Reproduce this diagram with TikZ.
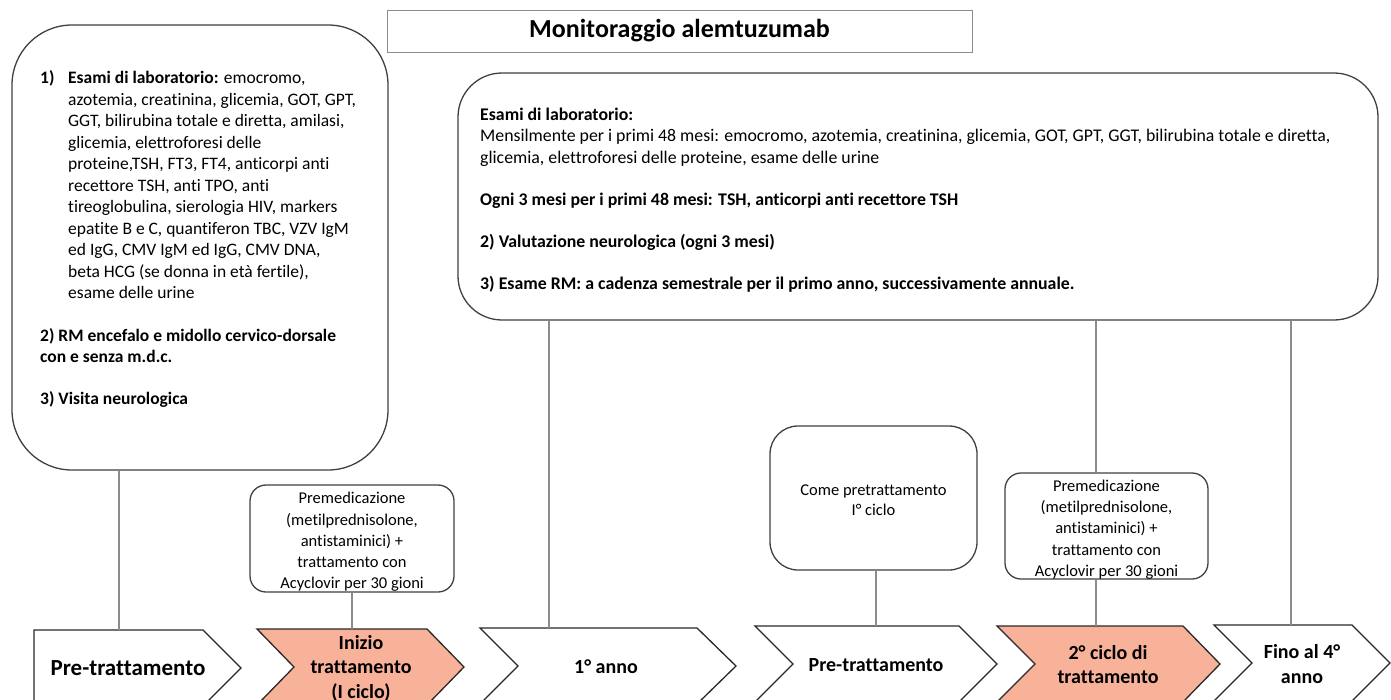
\documentclass[tikz,border=0pt]{standalone}
\usepackage{fontspec}
\setmainfont{Carlito}[Ligatures=CommonOff]
\definecolor{boxgray}{RGB}{64,64,64}
\definecolor{linegray}{RGB}{140,140,140}
\definecolor{chevdark}{RGB}{40,40,40}
\definecolor{salmon}{RGB}{249,178,154}
\begin{document}
\begin{tikzpicture}[x=1pt,y=-1pt,
  box/.style={draw=boxgray, line width=1.3pt, fill=white, inner sep=0},
  titlebox/.style={draw=linegray, line width=1pt, inner sep=0},
  conn/.style={draw=linegray, line width=1.1pt},
  chev/.style={draw=chevdark, line width=1.3pt, line join=miter, fill=white},
  chevhot/.style={chev, fill=salmon},
  chevtext/.style={font=\fontsize{20}{24.5}\selectfont\bfseries, align=center, inner sep=0},
  bodytext/.style={font=\fontsize{17.5}{21.5}\selectfont, align=left, inner sep=0, anchor=north west},
  smalltext/.style={font=\fontsize{16.5}{21.3}\selectfont, align=center, inner sep=0}]
\useasboundingbox (0,0) rectangle (1391,699);
\clip (0,0) rectangle (1391,699);

% title
\node[titlebox, minimum width=585, minimum height=42] (title) at (679.5,31)
  {\fontsize{26}{30}\selectfont\bfseries Monitoraggio alemtuzumab};

% large boxes
\node[box, rounded corners=60, minimum width=376, minimum height=445] (leftbox) at (200,247.5) {};
\node[box, rounded corners=44, minimum width=920, minimum height=247] (rightbox) at (918,196.5) {};

\node[bodytext] (lefttext) at (40,70.5) {%
\makebox[28pt][l]{\textbf{1)}}\textbf{Esami di laboratorio:} emocromo,\\
\hspace*{28pt}azotemia, creatinina, glicemia, GOT, GPT,\\
\hspace*{28pt}GGT, bilirubina totale e diretta, amilasi,\\
\hspace*{28pt}glicemia, elettroforesi delle\\
\hspace*{28pt}proteine,TSH, FT3, FT4, anticorpi anti\\
\hspace*{28pt}recettore TSH, anti TPO, anti\\
\hspace*{28pt}tireoglobulina, sierologia HIV, markers\\
\hspace*{28pt}epatite B e C, quantiferon TBC, VZV IgM\\
\hspace*{28pt}ed IgG, CMV IgM ed IgG, CMV DNA,\\
\hspace*{28pt}beta HCG (se donna in età fertile),\\
\hspace*{28pt}esame delle urine\\[21pt]
\textbf{2) RM encefalo e midollo cervico-dorsale}\\
\textbf{con e senza m.d.c.}\\[20.5pt]
\textbf{3) Visita neurologica}};

\node[bodytext, font=\fontsize{17.8}{21.5}\selectfont] (righttext) at (480,107.5) {%
\textbf{Esami di laboratorio:}\\
Mensilmente per i primi 48 mesi: emocromo, azotemia, creatinina, glicemia, GOT, GPT, GGT, bilirubina totale e diretta,\\
glicemia, elettroforesi delle proteine, esame delle urine\\[20.5pt]
\textbf{Ogni 3 mesi per i primi 48 mesi: TSH, anticorpi anti recettore TSH}\\[20.5pt]
\textbf{2) Valutazione neurologica (ogni 3 mesi)}\\[20.5pt]
\textbf{3) Esame RM: a cadenza semestrale per il primo anno, successivamente annuale.}};

% small boxes
\node[box, rounded corners=16, minimum width=204, minimum height=107] (premedA) at (352,538.5) {};
\node[smalltext] (premedAtext) at ([yshift=-3.5]premedA.center) {Premedicazione\\(metilprednisolone,\\antistaminici) +\\trattamento con\\Acyclovir per 30 gioni};
\node[box, rounded corners=28, minimum width=207, minimum height=144] (come) at (873.5,498) {};
\node[smalltext, anchor=north, font=\fontsize{16.5}{20}\selectfont] (cometext) at (873.5,484.5) {Come pretrattamento\\I° ciclo};
\node[box, rounded corners=16, minimum width=203, minimum height=106] (premedB) at (1106.5,526) {};
\node[smalltext] (premedBtext) at ([yshift=-3.5]premedB.center) {Premedicazione\\(metilprednisolone,\\antistaminici) +\\trattamento con\\Acyclovir per 30 gioni};

% timeline chevrons
\draw[chev] (34,630) -- (203,630) -- (241,668) -- (203,706) -- (34,706) -- cycle;
\draw[chevhot] (257,629) -- (427,629) -- (464,667) -- (427,705) -- (257,705) -- (294,667) -- cycle;
\draw[chev] (480,628) -- (697,628) -- (736,666) -- (697,704) -- (480,704) -- (518,666) -- cycle;
\draw[chev] (755,626) -- (959,626) -- (997,664) -- (959,702) -- (755,702) -- (793,664) -- cycle;
\draw[chevhot] (997,626) -- (1183,626) -- (1220,664) -- (1183,702) -- (997,702) -- (1035,664) -- cycle;
\draw[chev] (1214,625) -- (1352,625) -- (1390,663) -- (1352,701) -- (1214,701) -- (1252,663) -- cycle;

\coordinate (topA) at (119,630);
\coordinate (topB) at (352,629);
\coordinate (topC) at (549,628);
\coordinate (topD) at (876,626);
\coordinate (topE) at (1096,626);
\coordinate (topF) at (1291,625);

\node[chevtext, font=\fontsize{23}{27}\selectfont\bfseries] (stepA) at (128,668) {Pre-trattamento};
\node[chevtext] (stepB) at (361,668) {Inizio\\trattamento\\(I ciclo)};
\node[chevtext] (stepC) at (606,667) {1° anno};
\node[chevtext] (stepD) at (876,665) {Pre-trattamento};
\node[chevtext] (stepE) at (1108,664.5) {2° ciclo di\\trattamento};
\node[chevtext] (stepF) at (1302,664) {Fino al 4°\\anno};

% connectors
\draw[conn] (leftbox.south -| topA) -- (topA);
\draw[conn] (premedA.south) -- (topB);
\draw[conn] (rightbox.south -| topC) -- (topC);
\draw[conn] (come.south -| topD) -- (topD);
\draw[conn] (rightbox.south -| topE) -- (premedB.north -| topE);
\draw[conn] (premedB.south -| topE) -- (topE);
\draw[conn] (rightbox.south -| topF) -- (topF);
\end{tikzpicture}
\end{document}
